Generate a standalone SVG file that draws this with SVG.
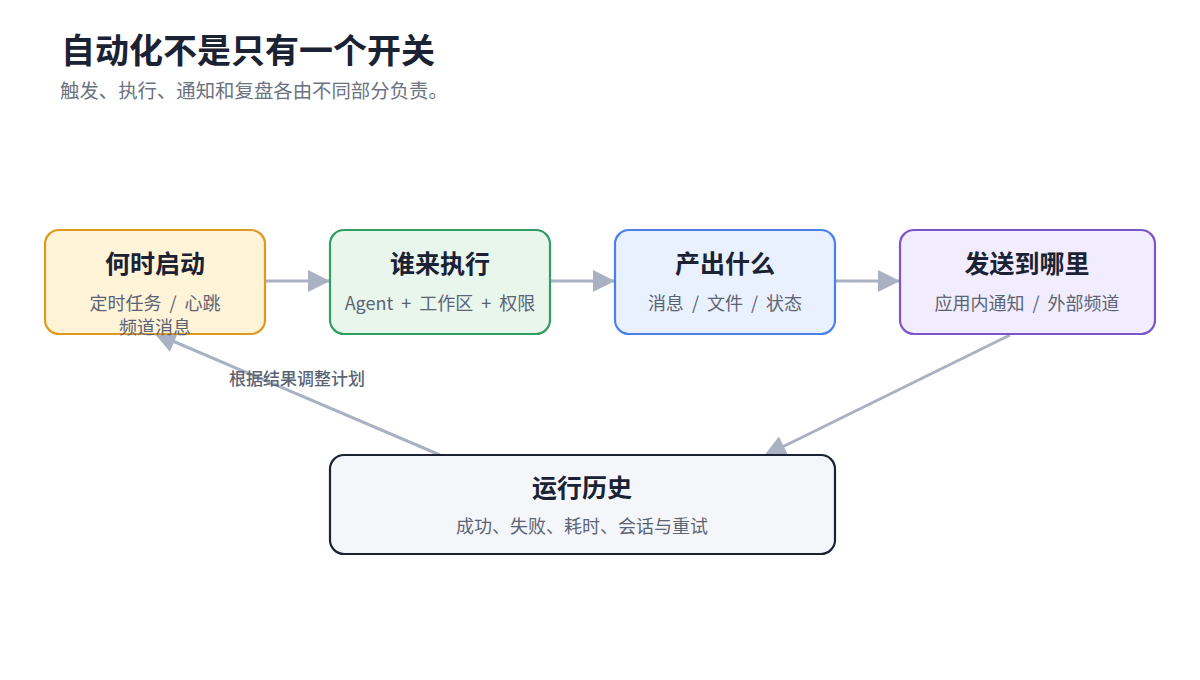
<svg xmlns="http://www.w3.org/2000/svg" width="1200" height="680" viewBox="0 0 1200 680">
<style>
text{font-family:"Noto Sans CJK SC","Noto Sans",sans-serif}
.h1{font-size:34px;font-weight:700;fill:#1a2233}
.sub{font-size:19.4px;fill:#6b7280}
.t{font-size:25px;font-weight:700;fill:#1a2233;text-anchor:middle}
.s{font-size:18px;fill:#5b6474;text-anchor:middle;word-spacing:4px}
.lbl{font-size:17px;font-weight:500;fill:#5b6474;text-anchor:middle}
.box{stroke-width:2.2}
.edge{stroke:#a9b1c2;stroke-width:3;fill:none}
</style>
<defs>
<marker id="ah" markerUnits="userSpaceOnUse" markerWidth="24" markerHeight="24" viewBox="0 0 24 24" refX="23" refY="12" orient="auto">
<path d="M1,1 L23,12 L1,23 Z" fill="#a9b1c2"/>
</marker>
</defs>
<rect width="1200" height="680" fill="#ffffff"/>
<text class="h1" x="61" y="63">自动化不是只有一个开关</text>
<text class="sub" x="60" y="98">触发、执行、通知和复盘各由不同部分负责。</text>
<g id="connectors">
<path class="edge" d="M266,281 L330,281" marker-end="url(#ah)"/>
<path class="edge" d="M551,281 L615,281" marker-end="url(#ah)"/>
<path class="edge" d="M836,281 L900,281" marker-end="url(#ah)"/>
<path class="edge" d="M1010,335 L764,456" marker-end="url(#ah)"/>
<path class="edge" d="M440,455 L154,333" marker-end="url(#ah)"/>
<text class="lbl" x="297" y="385">根据结果调整计划</text>
</g>
<g id="node-trigger">
<rect class="box" x="45" y="230" width="220" height="104" rx="14" fill="#fff3d8" stroke="#dc9a20"/>
<text class="t" x="155" y="273">何时启动</text>
<text class="s" x="155" y="310">定时任务 / 心跳</text>
<text class="s" x="155" y="334">频道消息</text>
</g>
<g id="node-exec">
<rect class="box" x="330" y="230" width="220" height="104" rx="14" fill="#e8f6ec" stroke="#2f9e5f"/>
<text class="t" x="440" y="273">谁来执行</text>
<text class="s" x="440" y="310">Agent + 工作区 + 权限</text>
</g>
<g id="node-output">
<rect class="box" x="615" y="230" width="220" height="104" rx="14" fill="#e9f1fe" stroke="#4b7fea"/>
<text class="t" x="725" y="273">产出什么</text>
<text class="s" x="725" y="310">消息 / 文件 / 状态</text>
</g>
<g id="node-deliver">
<rect class="box" x="900" y="230" width="255" height="104" rx="14" fill="#f1ecfe" stroke="#7b55c9"/>
<text class="t" x="1027" y="273">发送到哪里</text>
<text class="s" x="1027" y="310">应用内通知 / 外部频道</text>
</g>
<g id="node-history">
<rect class="box" x="330" y="455" width="505" height="99" rx="14" fill="#f4f6fa" stroke="#1a2233"/>
<text class="t" x="582" y="497">运行历史</text>
<text class="s" x="582" y="533">成功、失败、耗时、会话与重试</text>
</g>
</svg>
